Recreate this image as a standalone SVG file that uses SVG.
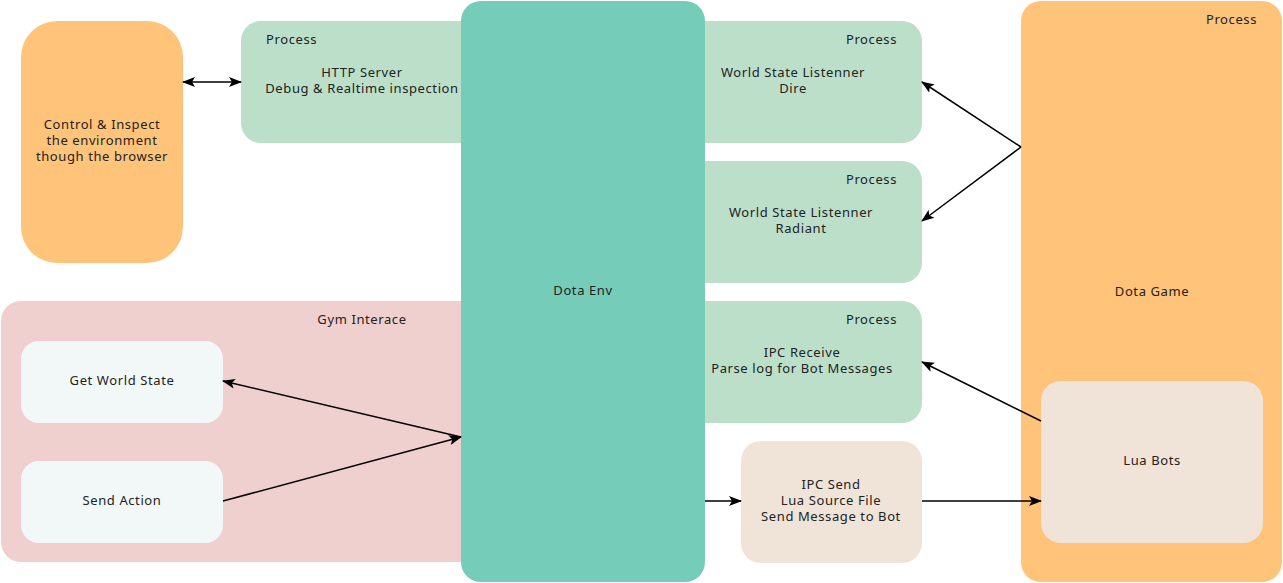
<svg xmlns="http://www.w3.org/2000/svg" width="1283" height="583" viewBox="0 0 1283 583">
<defs>
<style>
text{font-family:"Noto Sans","Liberation Sans",sans-serif;font-size:13px;letter-spacing:0.6px;fill:#222;}
.c{text-anchor:middle;}
.e{text-anchor:end;}
.green{fill:#BCDFCA;}
.env{fill:#75CDB9;}
.orange{fill:#FFC47A;}
.beige{fill:#F0E4D8;}
.pink{fill:#F0D0CE;}
.white{fill:#F2F8F8;}
.ln{stroke:#000;stroke-width:1.5;fill:none;}
</style>
<marker id="ah" markerUnits="userSpaceOnUse" markerWidth="14" markerHeight="12" refX="12" refY="5" orient="auto-start-reverse" viewBox="0 0 14 10">
<path d="M0,0 L13,5 L0,10 L3,5 z" fill="#000"/>
</marker>
</defs>

<g id="control">
<rect x="21" y="21" width="162" height="242" rx="36" class="orange"/>
<text x="102" y="129" class="c">Control &amp; Inspect</text>
<text x="102" y="145" class="c">the environment</text>
<text x="102" y="161" class="c">though the browser</text>
</g>

<g id="http">
<rect x="241" y="21" width="260" height="122" rx="20" class="green"/>
<text x="266" y="44">Process</text>
<text x="362" y="77" class="c">HTTP Server</text>
<text x="362" y="93" class="c">Debug &amp; Realtime inspection</text>
</g>

<g id="gym">
<rect x="1" y="301" width="500" height="261" rx="20" class="pink"/>
<text x="362" y="324" class="c">Gym Interace</text>
</g>

<g id="getws">
<rect x="21" y="341" width="202" height="82" rx="18" class="white"/>
<text x="122" y="385" class="c">Get World State</text>
</g>

<g id="sendaction">
<rect x="21" y="461" width="202" height="82" rx="18" class="white"/>
<text x="122" y="505" class="c">Send Action</text>
</g>

<g id="dire">
<rect x="660" y="21" width="262" height="122" rx="20" class="green"/>
<text x="897" y="44" class="e">Process</text>
<text x="793" y="77" class="c">World State Listenner</text>
<text x="793" y="93" class="c">Dire</text>
</g>

<g id="radiant">
<rect x="660" y="161" width="262" height="122" rx="20" class="green"/>
<text x="897" y="184" class="e">Process</text>
<text x="801" y="217" class="c">World State Listenner</text>
<text x="801" y="233" class="c">Radiant</text>
</g>

<g id="ipcreceive">
<rect x="660" y="301" width="262" height="122" rx="20" class="green"/>
<text x="897" y="324" class="e">Process</text>
<text x="802" y="357" class="c">IPC Receive</text>
<text x="802" y="373" class="c">Parse log for Bot Messages</text>
</g>

<g id="dotaenv">
<rect x="461" y="1" width="244" height="581" rx="20" class="env"/>
<text x="583" y="295" class="c">Dota Env</text>
</g>

<g id="ipcsend">
<rect x="741" y="441" width="181" height="122" rx="20" class="beige"/>
<text x="831" y="489" class="c">IPC Send</text>
<text x="831" y="505" class="c">Lua Source File</text>
<text x="831" y="521" class="c">Send Message to Bot</text>
</g>

<g id="dotagame">
<rect x="1021" y="1" width="261" height="581" rx="20" class="orange"/>
<text x="1257" y="24" class="e">Process</text>
<text x="1152" y="296" class="c">Dota Game</text>
</g>

<g id="luabots">
<rect x="1041" y="381" width="222" height="162" rx="20" class="beige"/>
<text x="1152" y="465" class="c">Lua Bots</text>
</g>

<g id="connectors">
<line x1="183" y1="82" x2="241" y2="82" class="ln" stroke-width="2" marker-start="url(#ah)" marker-end="url(#ah)"/>
<line x1="1021" y1="147" x2="922" y2="82" class="ln" marker-end="url(#ah)"/>
<line x1="1021" y1="147" x2="922" y2="221" class="ln" marker-end="url(#ah)"/>
<line x1="1041" y1="421" x2="922" y2="362" class="ln" marker-end="url(#ah)"/>
<line x1="461" y1="437" x2="223" y2="381" class="ln" marker-end="url(#ah)"/>
<line x1="223" y1="501" x2="461" y2="437" class="ln" marker-end="url(#ah)"/>
<line x1="705" y1="501" x2="741" y2="501" class="ln" stroke-width="2" marker-end="url(#ah)"/>
<line x1="922" y1="501" x2="1041" y2="501" class="ln" stroke-width="2" marker-end="url(#ah)"/>
</g>
</svg>
